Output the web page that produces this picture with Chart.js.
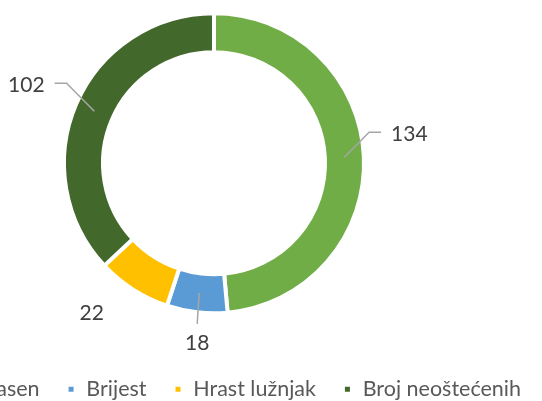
<!DOCTYPE html>
<html lang="hr">
  <head>
    <meta charset="UTF-8" />
    <script src="https://cdn.jsdelivr.net/npm/chart.js@4"></script>
    <title>Oštećenja stabala</title>
    <style>
      html, body { margin: 0; padding: 0; background: #fff; overflow: hidden; }
      body { width: 542px; height: 401px; position: relative; }
      #chart { position: absolute; left: -124px; top: -25px; }
    </style>
  </head>
  <body>
    <canvas id="chart" width="676" height="435"></canvas>

    <script>
      // data
      const categories = ["Jasen", "Brijest", "Hrast lužnjak", "Broj neoštećenih"];
      const counts = [134, 18, 22, 102];
      const sliceColors = ["#70AD47", "#5B9BD5", "#FFC000", "#43682B"];

      const FONT = "Lato, 'Noto Sans', sans-serif";

      // draws the value labels with Excel-like leader lines
      const sliceLabels = {
        id: "sliceLabels",
        afterDatasetsDraw(chart, args, opts) {
          const ctx = chart.ctx;
          const meta = chart.getDatasetMeta(0);
          ctx.save();
          ctx.font = opts.size + "px " + FONT;
          ctx.textAlign = "center";
          ctx.textBaseline = "middle";
          meta.data.forEach((arc, i) => {
            const p = arc.getProps(["x", "y", "startAngle", "endAngle", "innerRadius", "outerRadius"], true);
            const mid = (p.startAngle + p.endAngle) / 2;
            const r = (p.innerRadius + p.outerRadius) / 2;
            const ax = p.x + Math.cos(mid) * r;
            const ay = p.y + Math.sin(mid) * r;
            const lx = ax + opts.offsets[i][0];
            const ly = ay + opts.offsets[i][1];
            const text = String(chart.data.datasets[0].data[i]);
            const w = ctx.measureText(text).width;

            const leader = opts.leaders[i];
            if (leader) {
              ctx.beginPath();
              ctx.strokeStyle = "#A6A6A6";
              ctx.lineWidth = 1.5;
              ctx.moveTo(ax, ay);
              if (leader === "right") {
                const ex = lx - w / 2 - 10;
                ctx.lineTo(ex - 12, ly - 2);
                ctx.lineTo(ex, ly - 2);
              } else if (leader === "left") {
                const ex = lx + w / 2 + 10;
                ctx.lineTo(ex + 12, ly - 1.5);
                ctx.lineTo(ex, ly - 1.5);
              } else if (leader === "top") {
                ctx.lineTo(lx, ly - 19);
              }
              ctx.stroke();
            }
            ctx.fillStyle = "#404040";
            ctx.fillText(text, lx, ly);
          });
          ctx.restore();
        }
      };

      const ctx = document.getElementById("chart").getContext("2d");
      const chart = new Chart(ctx, {
        type: "doughnut",
        data: {
          labels: categories,
          datasets: [
            {
              data: counts,
              backgroundColor: sliceColors,
              borderColor: "#ffffff",
              borderWidth: 4
            }
          ]
        },
        options: {
          responsive: false,
          animation: false,
          radius: 150,
          cutout: "74%",
          // equal side padding keeps the ring centred but pulls the end-aligned legend left
          layout: { padding: { left: 4, right: 4 } },
          plugins: {
            tooltip: { enabled: false },
            legend: {
              position: "bottom",
              align: "end",
              labels: {
                boxWidth: 9,
                boxHeight: 9,
                padding: 27,
                color: "#595959",
                font: { family: FONT, size: 21.5 }
              }
            },
            sliceLabels: {
              size: 21,
              offsets: [[65, -23], [-2, 50], [-52, 40], [-68, -26.5]],
              leaders: ["right", "top", null, "left"]
            }
          }
        },
        plugins: [sliceLabels]
      });
    </script>
  </body>
</html>
